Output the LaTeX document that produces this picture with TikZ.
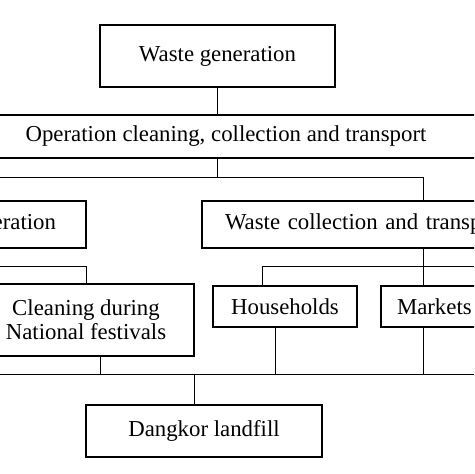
\documentclass[tikz,border=0pt]{standalone}
\usepackage{fontspec}
\setmainfont{Liberation Serif}
\usetikzlibrary{positioning}

\begin{document}
\begin{tikzpicture}[x=0.5pt, y=-0.5pt,
        box/.style={draw, line width=0.8pt, inner sep=0pt, font=\fontsize{11.4}{12}\selectfont},
        link/.style={line width=0.5pt},
    ]
    \useasboundingbox (0,0) rectangle (474,474);
    \clip (0,0) rectangle (474,474);
    % boxes
    \node[box, minimum width=117.5pt, minimum height=31pt] (gen) at (217.5,56) {Waste generation};
    \node[box, minimum width=280pt, minimum height=21.5pt] (oper) at (226,136.5) {Operation cleaning, collection and transport};
    \node[box, minimum height=23.5pt, inner xsep=15pt, text width=80pt, align=right] (clop) at (-24,224.5) {operation};
    \node[box, minimum height=23.5pt, inner xsep=11.5pt, text width=198pt, align=left] (coll) at (423,224.5) {Waste collection and transport};
    \node[box, minimum width=108pt, minimum height=36pt, align=center] (clean) at (86,320) {Cleaning during\\National festivals};
    \node[box, minimum width=72pt, minimum height=20.5pt] (house) at (285,306.5) {Households};
    \node[box, minimum height=20.5pt, inner xsep=8pt, text width=64pt, align=left] (mkt) at (461,306.5) {Markets};
    \node[box, minimum width=118pt, minimum height=26pt] (dump) at (204,431) {Dangkor landfill};
    % bus lines
    \coordinate (busA) at (-10,178);
    \coordinate (busB) at (-10,267);
    \coordinate (busC) at (262,267);
    \coordinate (busCe) at (490,267);
    \coordinate (busD) at (-10,374);
    \coordinate (busDe) at (490,374);
    % links
    \draw[link] (gen.south) -- (gen.south |- oper.north);
    \draw[link] (gen.south |- oper.south) -- (gen.south |- busA);
    \draw[link] (busA) -| (coll.north);
    \draw[link] (busB) -| (clean.north);
    \draw[link] (coll.south) -- (coll.south |- mkt.north);
    \draw[link] (house.north -| busC) |- (busCe);
    \draw[link] (busD) -- (busDe);
    \draw[link] ([xshift=7pt]clean.south) -- ([xshift=7pt]clean.south |- busD);
    \draw[link] ([xshift=-5pt]house.south) -- ([xshift=-5pt]house.south |- busD);
    \draw[link] (mkt.south -| coll.south) -- (coll.south |- busD);
    \draw[link] ([xshift=-5pt]dump.north) -- ([xshift=-5pt]dump.north |- busD);
\end{tikzpicture}
\end{document}
